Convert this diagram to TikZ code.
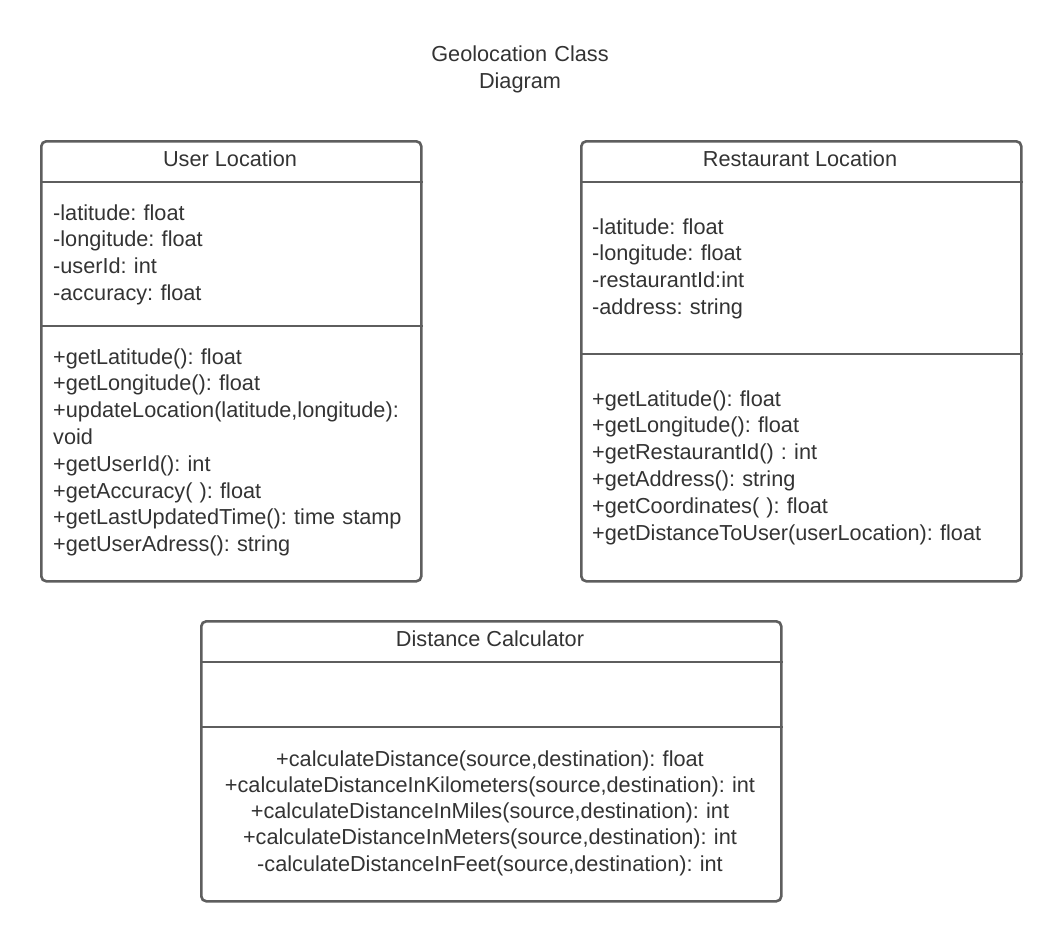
\documentclass[tikz,border=0pt]{standalone}
\usepackage{fontspec}
\setmainfont{Liberation Sans}
\usepackage{xcolor}
\usetikzlibrary{positioning,calc}
\definecolor{umlLine}{HTML}{5E5E5E}
\definecolor{umlText}{HTML}{333333}
\frenchspacing

\begin{document}
\begin{tikzpicture}[
    x=1pt,y=-1pt,
    classbox/.style={draw=umlLine,line width=2.6pt,rounded corners=5pt,
                     inner sep=0pt,anchor=north west},
    classline/.style={draw=umlLine,line width=2.6pt},
    classname/.style={font=\fontsize{21.7}{27}\selectfont,text=umlText,
                      anchor=base,inner sep=0pt},
    membertxt/.style={font=\fontsize{21.7}{26.8}\selectfont,text=umlText,
                      align=left,text width=370pt,anchor=base west,inner sep=0pt},
    methodtxt/.style={font=\fontsize{21.7}{26.3}\selectfont,text=umlText,
                      align=center,text width=560pt,anchor=base,inner sep=0pt}
  ]
  \useasboundingbox (0,0) rectangle (1060,940);

  % title
  \node[classname,align=center,text width=300pt] (title) at (520,61)
    {Geolocation Class\\Diagram};

  % the three class boxes
  \node[classbox,minimum width=380pt,minimum height=440pt] (userloc) at (40,140) {};
  \node[classbox,minimum width=440pt,minimum height=440pt] (restloc) at (580,140) {};
  \node[classbox,minimum width=580pt,minimum height=280pt] (distcalc) at (200,620) {};

  % compartment lines
  \draw[classline] (userloc.west |- 0,182) -- (userloc.east |- 0,182);
  \draw[classline] (userloc.west |- 0,326) -- (userloc.east |- 0,326);
  \draw[classline] (restloc.west |- 0,182) -- (restloc.east |- 0,182);
  \draw[classline] (restloc.west |- 0,354) -- (restloc.east |- 0,354);
  \draw[classline] (distcalc.west |- 0,662) -- (distcalc.east |- 0,662);
  \draw[classline] (distcalc.west |- 0,727) -- (distcalc.east |- 0,727);

  % User Location
  \node[classname] (username) at (230,166) {User Location};
  \node[membertxt] (userattr) at (53,220)
    {-latitude: float\\-longitude: float\\-userId: int\\-accuracy: float};
  \node[membertxt] (usermeth) at (53,364)
    {+getLatitude(): float\\+getLongitude(): float\\
     +updateLocation(latitude,longitude):\\void\\+getUserId(): int\\
     +getAccuracy( ): float\\+getLastUpdatedTime(): time stamp\\
     +getUserAdress(): string};

  % Restaurant Location
  \node[classname] (restname) at (800,166) {Restaurant Location};
  \node[membertxt] (restattr) at (592,234)
    {-latitude: float\\-longitude: float\\-restaurantId:int\\-address: string};
  \node[membertxt,text width=420pt] (restmeth) at (592,406)
    {+getLatitude(): float\\+getLongitude(): float\\+getRestaurantId() : int\\
     +getAddress(): string\\+getCoordinates( ): float\\
     +getDistanceToUser(userLocation): float};

  % Distance Calculator
  \node[classname] (distname) at (490,646) {Distance Calculator};
  \node[methodtxt] (distmeth) at (490,766)
    {+calculateDistance(source,destination): float\\
     +calculateDistanceInKilometers(source,destination): int\\
     +calculateDistanceInMiles(source,destination): int\\
     +calculateDistanceInMeters(source,destination): int\\
     -calculateDistanceInFeet(source,destination): int};
\end{tikzpicture}
\end{document}
